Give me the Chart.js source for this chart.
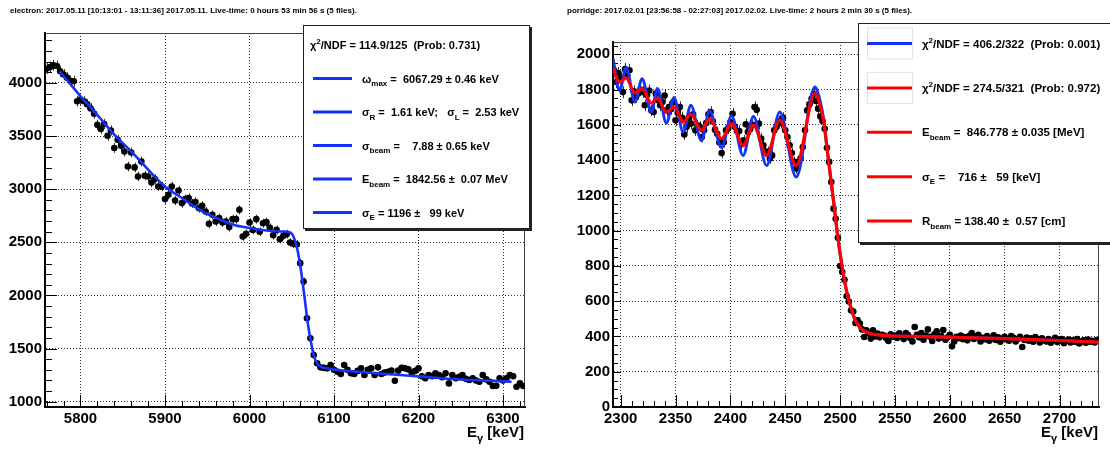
<!DOCTYPE html>
<html>
<head>
<meta charset="utf-8">
<script src="https://cdn.jsdelivr.net/npm/chart.js@4.4.1/dist/chart.umd.min.js"></script>
<style>
  html, body { margin: 0; padding: 0; background: #fff; }
  #wrap { position: relative; width: 1110px; height: 449px; overflow: hidden; }
  canvas { position: absolute; top: 0; }
  #leftPanel { left: 0; }
  #rightPanel { left: 555px; }
</style>
</head>
<body>
<div id="wrap">
  <canvas id="leftPanel" width="555" height="449"></canvas>
  <canvas id="rightPanel" width="555" height="449"></canvas>
</div>
<script>
// ---- left panel: electron ----
const LEFT_E = [
  5760,5764,5768,5772,5776,5780,5784,5788,5792,5796,
  5800,5804,5808,5812,5816,5820,5824,5828,5832,5836,
  5840,5844,5848,5852,5856,5860,5864,5868,5872,5876,
  5880,5884,5888,5892,5896,5900,5904,5908,5912,5916,
  5920,5924,5928,5932,5936,5940,5944,5948,5952,5956,
  5960,5964,5968,5972,5976,5980,5984,5988,5992,5996,
  6000,6004,6008,6012,6016,6020,6024,6028,6032,6036,
  6040,6044,6048,6052,6056,6060,6064,6068,6072,6076,
  6080,6084,6088,6092,6096,6100,6104,6108,6112,6116,
  6120,6124,6128,6132,6136,6140,6144,6148,6152,6156,
  6160,6164,6168,6172,6176,6180,6184,6188,6192,6196,
  6200,6204,6208,6212,6216,6220,6224,6228,6232,6236,
  6240,6244,6248,6252,6256,6260,6264,6268,6272,6276,
  6280,6284,6288,6292,6296,6300,6304,6308,6312,6316,
  6320,6324
];
const LEFT_COUNTS = [
  4135,4150,4165,4160,4110,4080,4050,4020,4016,3827,
  3843,3827,3800,3760,3711,3607,3567,3614,3503,3553,
  3388,3466,3409,3355,3214,3346,3205,3120,3261,3127,
  3120,3063,3095,3026,3026,2907,2948,3026,2894,2988,
  2869,2907,2916,2866,2880,2822,2844,2790,2674,2759,
  2696,2728,2686,2696,2643,2718,2718,2806,2555,2580,
  2686,2617,2718,2600,2680,2690,2636,2567,2617,2530,
  2561,2577,2498,2486,2480,2304,2131,1786,1597,1440,
  1362,1324,1318,1314,1345,1300,1282,1260,1345,1300,
  1267,1260,1290,1314,1251,1300,1314,1251,1323,1260,
  1275,1282,1292,1197,1292,1320,1314,1304,1273,1290,
  1314,1240,1220,1251,1240,1267,1251,1230,1267,1172,
  1251,1220,1235,1251,1215,1204,1220,1200,1188,1251,
  1210,1188,1147,1150,1220,1200,1220,1251,1240,1141,
  1172,1147
];
const LEFT_FIT_E = [5775,5790,5800,5812,5823,5842,5862,5882,5900,5922,5941,5961,5981,6000,6020,6040,6047,6051,6054,6057,
  6061,6065,6069,6073,6077,6080,6083,6087,6091,6100,6126,6166,6205,6245,6284,6310];
const LEFT_FIT_V = [4109,3970,3874,3770,3670,3497,3340,3167,3026,2907,2806,2728,2665,2634,2611,2602,2596,2570,2510,2420,
  2230,1990,1740,1550,1410,1360,1336,1322,1315,1302,1283,1258,1236,1211,1198,1188];
const LEFT_X_TICKS = [5800, 5900, 6000, 6100, 6200, 6300];
const LEFT_Y_TICKS = [1000, 1500, 2000, 2500, 3000, 3500, 4000];

const LEFT_HEADER = 'electron: 2017.05.11 [10:13:01 - 13:11:36] 2017.05.11. Live-time: 0 hours 53 min 56 s (5 files).';
const LEFT_LEGEND = [
  ['', 'χ^{2}/NDF = 114.9/125  (Prob: 0.731)'],
  ['blue', 'ω_{max} =  6067.29 ± 0.46 keV'],
  ['blue', 'σ_{R} =  1.61 keV;   σ_{L} =  2.53 keV'],
  ['blue', 'σ_{beam} =    7.88 ± 0.65 keV'],
  ['blue', 'E_{beam} =  1842.56 ±  0.07 MeV'],
  ['blue', 'σ_{E} = 1196 ±   99 keV']
];

// ---- right panel: porridge ----
const RIGHT_E = [
  2294,2296,2298,2300,2302,2304,2306,2308,2310,2312,
  2314,2316,2318,2320,2322,2324,2326,2328,2330,2332,
  2334,2336,2338,2340,2342,2344,2346,2348,2350,2352,
  2354,2356,2358,2360,2362,2364,2366,2368,2370,2372,
  2374,2376,2378,2380,2382,2384,2386,2388,2390,2392,
  2394,2396,2398,2400,2402,2404,2406,2408,2410,2412,
  2414,2416,2418,2420,2422,2424,2426,2428,2430,2432,
  2434,2436,2438,2440,2442,2444,2446,2448,2450,2452,
  2454,2456,2458,2460,2462,2464,2466,2468,2470,2472,
  2474,2476,2478,2480,2482,2484,2486,2488,2490,2492,
  2494,2496,2498,2500,2502,2504,2506,2508,2510,2512,
  2514,2516,2518,2520,2522,2524,2526,2528,2530,2532,
  2534,2536,2538,2540,2542,2544,2546,2548,2550,2552,
  2554,2556,2558,2560,2562,2564,2566,2568,2570,2572,
  2574,2576,2578,2580,2582,2584,2586,2588,2590,2592,
  2594,2596,2598,2600,2602,2604,2606,2608,2610,2612,
  2614,2616,2618,2620,2622,2624,2626,2628,2630,2632,
  2634,2636,2638,2640,2642,2644,2646,2648,2650,2652,
  2654,2656,2658,2660,2662,2664,2666,2668,2670,2672,
  2674,2676,2678,2680,2682,2684,2686,2688,2690,2692,
  2694,2696,2698,2700,2702,2704,2706,2708,2710,2712,
  2714,2716,2718,2720,2722,2724,2726,2728,2730,2732,
  2734
];
const RIGHT_COUNTS = [
  1910,1843,1894,1860,1786,1916,1880,1910,1739,1790,
  1758,1778,1800,1786,1711,1770,1795,1682,1673,1777,
  1740,1711,1730,1767,1682,1701,1690,1730,1626,1668,
  1701,1640,1546,1588,1640,1607,1660,1569,1598,1590,
  1531,1569,1610,1660,1673,1620,1573,1550,1500,1440,
  1502,1569,1580,1616,1663,1590,1565,1565,1490,1512,
  1603,1560,1575,1600,1701,1686,1607,1522,1484,1450,
  1446,1409,1427,1569,1588,1620,1611,1640,1569,1531,
  1484,1440,1390,1352,1390,1410,1474,1569,1682,1716,
  1748,1773,1735,1692,1648,1622,1578,1470,1390,1276,
  1125,1068,960,800,766,722,628,598,549,541,
  476,492,473,440,397,435,420,388,435,400,
  416,395,410,405,390,374,412,398,405,392,
  418,401,385,420,408,390,372,454,410,395,
  420,382,405,440,398,375,412,430,388,402,
  436,381,395,410,344,372,398,390,405,384,
  396,378,404,420,386,398,410,372,392,384,
  402,376,388,406,380,395,370,388,398,384,
  376,402,392,372,386,398,340,380,394,376,
  389,370,396,384,366,390,378,372,386,364,
  380,392,368,378,386,362,374,382,366,378,
  370,386,360,372,378,364,382,370,376,366,
  380
];
const RIGHT_FIT_E = [2293,2299,2305,2313,2319.5,2328,2333.5,2341.7,2348.6,2357,2364,2373.6,2381,2392,2401,2411.6,2421,2433,2445,2460,
  2477,2482,2485,2489,2494,2498,2502,2506,2510,2514,2518,2524,2530,2545,2570,2600,2650,2700,2736];
const RIGHT_RED_V = [1919,1843,1866,1781,1806,1724,1752,1673,1701,1616,1660,1569,1635,1522,1607,1484,1597,1427,1626,1370,
  1777,1705,1620,1420,1170,960,790,655,560,490,450,425,413,404,400,396,388,377,368];
const RIGHT_BLUE_V = [1976,1796,1925,1730,1862,1673,1806,1611,1754,1560,1711,1511,1678,1471,1650,1427,1648,1370,1673,1304,
  1815,1730,1630,1420,1170,960,790,655,560,490,450,425,413,404,400,396,388,377,368];
const RIGHT_X_TICKS = [2300, 2350, 2400, 2450, 2500, 2550, 2600, 2650, 2700];
const RIGHT_Y_TICKS = [0, 200, 400, 600, 800, 1000, 1200, 1400, 1600, 1800, 2000];

const RIGHT_HEADER = 'porridge: 2017.02.01 [23:56:58 - 02:27:03] 2017.02.02. Live-time: 2 hours 2 min 30 s (5 files).';
const RIGHT_LEGEND = [
  ['blue', 'χ^{2}/NDF = 406.2/322  (Prob: 0.001)'],
  ['red', 'χ^{2}/NDF = 274.5/321  (Prob: 0.972)'],
  ['red', 'E_{beam} =  846.778 ± 0.035 [MeV]'],
  ['red', 'σ_{E} =    716 ±   59 [keV]'],
  ['red', 'R_{beam} = 138.40 ±  0.57 [cm]']
];

const COLORS = { blue: 'rgb(20,50,250)', red: '#ff0000' };
const FAMILY = '"Liberation Sans", Arial, Helvetica, sans-serif';

function parseRich(str) {
  const out = [];
  const re = /([_^])\{([^}]*)\}/g;
  let last = 0, m;
  while ((m = re.exec(str))) {
    if (m.index > last) out.push([str.slice(last, m.index), 0]);
    out.push([m[2], m[1] === '_' ? 1 : 2]);
    last = re.lastIndex;
  }
  if (last < str.length) out.push([str.slice(last), 0]);
  return out;
}

function drawRich(ctx, str, x, y, size, align) {
  const parts = parseRich(str);
  const small = Math.round(size * 0.72);
  const fontOf = k => 'bold ' + (k ? small : size) + 'px ' + FAMILY;
  let w = 0;
  parts.forEach(([t, k]) => { ctx.font = fontOf(k); w += ctx.measureText(t).width; });
  let cx = align === 'right' ? x - w : x;
  ctx.textAlign = 'left';
  ctx.textBaseline = 'alphabetic';
  parts.forEach(([t, k]) => {
    ctx.font = fontOf(k);
    const dy = k === 1 ? size * 0.32 : (k === 2 ? -size * 0.42 : 0);
    ctx.fillText(t, cx, y + dy);
    cx += ctx.measureText(t).width;
  });
}

function makeRootPlugin(p) {
  return {
    id: 'rootLook',
    beforeDatasetsDraw(chart) {
      const { ctx, chartArea: a, scales: { x, y } } = chart;
      ctx.save();
      // thin frame on top and right
      ctx.strokeStyle = '#444';
      ctx.lineWidth = 1;
      ctx.beginPath();
      ctx.moveTo(a.left, a.top + 0.5);
      ctx.lineTo(a.right - 0.5, a.top + 0.5);
      ctx.lineTo(a.right - 0.5, a.bottom);
      ctx.stroke();

      // ticks pointing into the frame
      ctx.strokeStyle = '#000';
      ctx.beginPath();
      const nx = Math.ceil((x.max - x.min) / p.xMinor) + 2;
      const x0 = Math.floor(x.min / p.xMinor);
      for (let i = 0; i < nx; i++) {
        const v = (x0 + i) * p.xMinor;
        if (v < x.min || v > x.max) continue;
        const px = Math.round(x.getPixelForValue(v)) + 0.5;
        const len = (Math.round(v / p.xMinor) % p.xSub === 0) ? p.xMajorLen : p.xMinorLen;
        ctx.moveTo(px, a.bottom);
        ctx.lineTo(px, a.bottom - len);
      }
      const ny = Math.ceil((y.max - y.min) / p.yMinor) + 2;
      const y0 = Math.floor(y.min / p.yMinor);
      for (let i = 0; i < ny; i++) {
        const v = (y0 + i) * p.yMinor;
        if (v < y.min || v > y.max) continue;
        const py = Math.round(y.getPixelForValue(v)) + 0.5;
        const len = (Math.round(v / p.yMinor) % p.ySub === 0) ? p.yMajorLen : p.yMinorLen;
        ctx.moveTo(a.left, py);
        ctx.lineTo(a.left + len, py);
      }
      ctx.stroke();

      // vertical error bars of the data points
      ctx.beginPath();
      ctx.rect(a.left, a.top, a.right - a.left, a.bottom - a.top);
      ctx.clip();
      ctx.strokeStyle = '#333';
      ctx.beginPath();
      p.points.forEach(pt => {
        const px = Math.round(x.getPixelForValue(pt.x)) + 0.5;
        const e = p.errK * Math.sqrt(pt.y);
        ctx.moveTo(px, y.getPixelForValue(pt.y + e));
        ctx.lineTo(px, y.getPixelForValue(pt.y - e));
      });
      ctx.stroke();
      ctx.restore();
    },
    afterDraw(chart) {
      const { ctx, chartArea: a } = chart;
      ctx.save();
      ctx.fillStyle = '#000';
      // run header
      ctx.font = 'bold 8px ' + FAMILY;
      ctx.textAlign = 'left';
      ctx.textBaseline = 'middle';
      ctx.fillText(p.header, p.headerX, 11);

      // axis title
      drawRich(ctx, 'E_{γ} [keV]', a.right - 1, 437, 15, 'right');

      // legend box
      const b = p.box;
      ctx.fillStyle = '#222';
      ctx.fillRect(b.x + 2, b.y + 2, b.w, b.h);
      ctx.fillStyle = '#fff';
      ctx.fillRect(b.x, b.y, b.w, b.h);
      ctx.strokeStyle = '#222';
      ctx.lineWidth = 1;
      ctx.strokeRect(b.x + 0.5, b.y + 0.5, b.w - 1, b.h - 1);

      p.legend.forEach(([col, text], i) => {
        const cy = b.rowY0 + i * b.rowStep;
        if (col) {
          if (b.sampleBoxes && i < b.sampleBoxes) {
            ctx.strokeStyle = '#e4e4e4';
            ctx.strokeRect(b.lineX0 + 0.5, cy - 15.5, b.lineX1 - b.lineX0, 31);
          }
          ctx.strokeStyle = COLORS[col];
          ctx.lineWidth = 3;
          ctx.beginPath();
          ctx.moveTo(b.lineX0, cy);
          ctx.lineTo(b.lineX1, cy);
          ctx.stroke();
          ctx.lineWidth = 1;
        }
        ctx.fillStyle = '#000';
        drawRich(ctx, text, col ? b.textX : b.plainX, cy + 4, b.fontSize, 'left');
      });
      ctx.restore();
    }
  };
}

function buildPanel(id, p) {
  const tickFont = { family: FAMILY, size: 15, weight: 'bold' };
  const grid = { color: 'rgba(0,0,0,0.8)', lineWidth: 1, drawTicks: false };
  const border = { display: true, color: '#000', width: 2, dash: [1, 2] };
  return new Chart(document.getElementById(id), {
    type: 'scatter',
    data: { datasets: p.datasets },
    options: {
      responsive: false,
      animation: false,
      devicePixelRatio: 1,
      events: [],
      layout: { padding: { left: 0, right: p.padRight, top: p.padTop, bottom: 0 } },
      plugins: { legend: { display: false }, tooltip: { enabled: false } },
      scales: {
        x: {
          type: 'linear', min: p.xMin, max: p.xMax,
          afterFit: s => { s.height = 42; },
          afterBuildTicks: s => { s.ticks = p.xTicks.map(v => ({ value: v })); },
          ticks: { color: '#000', font: tickFont, padding: 3, maxRotation: 0, autoSkip: false,
                   callback: v => String(v) },
          grid: grid, border: border
        },
        y: {
          type: 'linear', min: p.yMin, max: p.yMax,
          afterFit: s => { s.width = p.yWidth; },
          afterBuildTicks: s => { s.ticks = p.yTicks.map(v => ({ value: v })); },
          ticks: { color: '#000', font: tickFont, padding: 3, autoSkip: false,
                   callback: v => String(v) },
          grid: grid, border: border
        }
      }
    },
    plugins: [makeRootPlugin(p)]
  });
}

function pointsOf(xs, ys) { return xs.map((e, i) => ({ x: e, y: ys[i] })); }

function dataSet(pts) {
  return { data: pts, showLine: false, pointRadius: 3.3, pointHoverRadius: 3.3, pointBorderWidth: 0,
           pointBackgroundColor: '#000', order: 5 };
}
function fitSet(xs, ys, color, width, order) {
  return { data: pointsOf(xs, ys), showLine: true, pointRadius: 0, borderColor: color, borderWidth: width,
           cubicInterpolationMode: 'monotone', fill: false, order: order };
}

const leftPts = pointsOf(LEFT_E, LEFT_COUNTS);
buildPanel('leftPanel', {
  datasets: [dataSet(leftPts), fitSet(LEFT_FIT_E, LEFT_FIT_V, COLORS.blue, 2.6, 1)],
  points: leftPts, errK: 0.8,
  xMin: 5758, xMax: 6326, yMin: 950, yMax: 4470,
  xTicks: LEFT_X_TICKS, yTicks: LEFT_Y_TICKS,
  xMinor: 20, xSub: 5, yMinor: 100, ySub: 5,
  xMajorLen: 12, xMinorLen: 6, yMajorLen: 12, yMinorLen: 7,
  padTop: 33, padRight: 30, yWidth: 45,
  header: LEFT_HEADER, headerX: 10,
  legend: LEFT_LEGEND,
  box: { x: 303, y: 25, w: 227, h: 204, rowY0: 45, rowStep: 33.5, fontSize: 11,
         lineX0: 313, lineX1: 352, textX: 362, plainX: 310 }
});

const rightPts = pointsOf(RIGHT_E, RIGHT_COUNTS);
buildPanel('rightPanel', {
  datasets: [dataSet(rightPts),
             fitSet(RIGHT_FIT_E, RIGHT_BLUE_V, COLORS.blue, 3, 2),
             fitSet(RIGHT_FIT_E, RIGHT_RED_V, COLORS.red, 3.2, 1)],
  points: rightPts, errK: 0.8,
  xMin: 2293, xMax: 2736, yMin: 0, yMax: 2070,
  xTicks: RIGHT_X_TICKS, yTicks: RIGHT_Y_TICKS,
  xMinor: 10, xSub: 5, yMinor: 50, ySub: 4,
  xMajorLen: 12, xMinorLen: 6, yMajorLen: 8, yMinorLen: 5,
  padTop: 42, padRight: 11, yWidth: 58,
  header: RIGHT_HEADER, headerX: 12,
  legend: RIGHT_LEGEND,
  box: { x: 303, y: 23, w: 262, h: 220, rowY0: 43.5, rowStep: 44.4, fontSize: 11.5,
         lineX0: 312, lineX1: 357, textX: 367, plainX: 312, sampleBoxes: 2 }
});
</script>
</body>
</html>
